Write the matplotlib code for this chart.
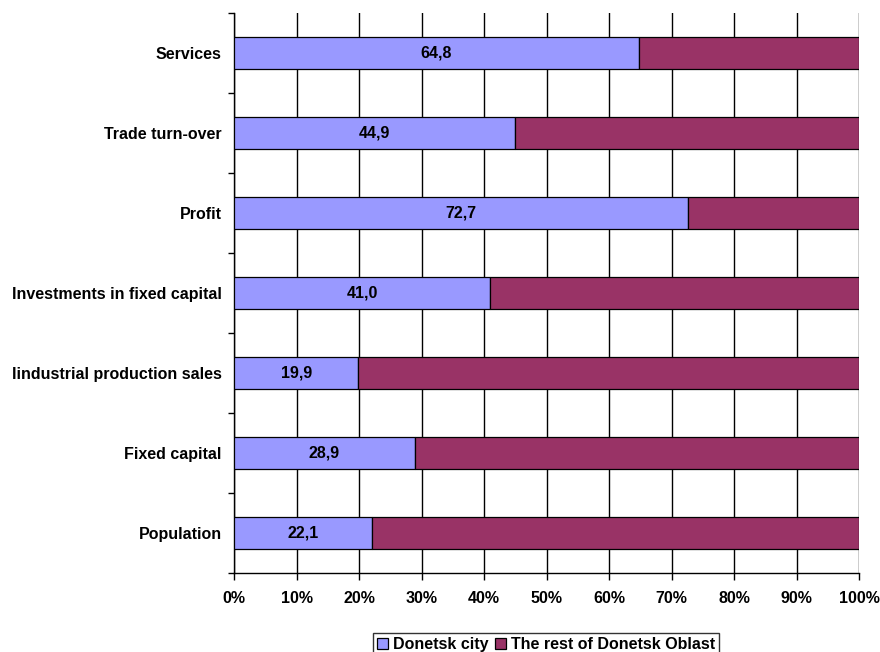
import matplotlib.pyplot as plt
import numpy as np

categories = ['Population', 'Fixed capital', 'Iindustrial production sales',
              'Investments in fixed capital', 'Profit', 'Trade turn-over', 'Services']
city = [22.1, 28.9, 19.9, 41.0, 72.7, 44.9, 64.8]
rest = [100 - v for v in city]
series_names = ['Donetsk city', 'The rest of Donetsk Oblast']
xticks = np.arange(0, 101, 10)

plt.rcParams['font.family'] = ['Liberation Sans', 'DejaVu Sans']
plt.rcParams['font.weight'] = 'bold'
fs = 11.5

fig = plt.figure(figsize=(8.8, 6.52), dpi=100)
ax = fig.add_axes([234/880, 1-573/652, 625/880, 560/652])

y = np.arange(len(categories))
b1 = ax.barh(y, city, height=0.4, color='#9999FF', edgecolor='black', linewidth=0.9,
             label=series_names[0], zorder=3)
b2 = ax.barh(y, rest, left=city, height=0.4, color='#993366', edgecolor='black',
             linewidth=0.9, label=series_names[1], zorder=3)

for yi, v in zip(y, city):
    ax.text(v/2, yi, ('%.1f' % v).replace('.', ','), ha='center', va='center',
            fontsize=fs, fontweight='bold', zorder=4)

ax.set_xlim(0, 100)
ax.set_ylim(-0.5, len(categories) - 0.5)
ax.set_xticks(xticks)
ax.set_xticklabels(['%d%%' % t for t in xticks], fontsize=fs, fontweight='bold')
ax.set_yticks(y)
ax.set_yticklabels(categories, fontsize=fs, fontweight='bold')
ax.set_yticks(np.arange(-0.5, len(categories)), minor=True)
ax.tick_params(axis='y', which='major', length=0, pad=9)
ax.tick_params(axis='y', which='minor', length=4, width=1, direction='out')
ax.tick_params(axis='x', length=5, width=1, direction='out', pad=8)

ax.grid(axis='x', color='black', linewidth=1, zorder=0)
ax.spines['top'].set_visible(False)
ax.spines['right'].set_visible(False)
for s in ['left', 'bottom']:
    ax.spines[s].set_linewidth(1)

leg = fig.legend(handles=[b1, b2], loc='upper center', ncol=2,
                 bbox_to_anchor=(546/880, 1-625/652), frameon=True, fancybox=False,
                 edgecolor='black', handlelength=0.7, handleheight=0.7,
                 handletextpad=0.3, columnspacing=0.4, borderpad=0.25,
                 prop={'weight': 'bold', 'size': fs})
leg.get_frame().set_linewidth(1)

fig.savefig('out.png', dpi=100)
